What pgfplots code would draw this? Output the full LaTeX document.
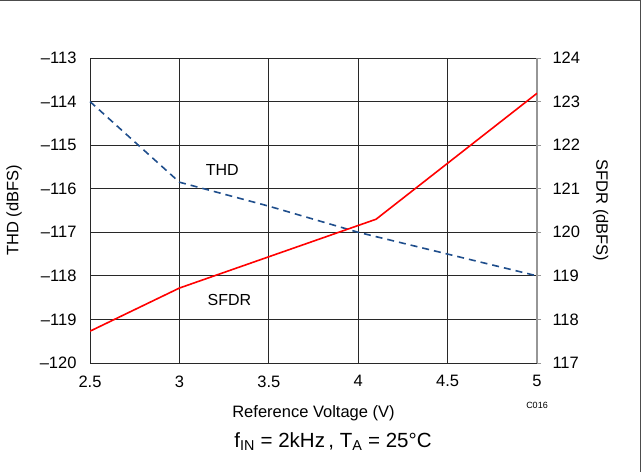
\documentclass[border=0pt]{standalone}
\usepackage{pgfplots}
\pgfplotsset{compat=1.18}
\usepackage{fontspec}
\setmainfont{Liberation Sans}

\definecolor{thdblue}{RGB}{31,78,140}
\definecolor{sfdrred}{RGB}{255,0,0}
\definecolor{gridgray}{RGB}{40,40,40}
\definecolor{rightgray}{RGB}{150,150,150}

\begin{document}
\begin{tikzpicture}
\path[use as bounding box] (0pt,0pt) rectangle (642pt,472pt);
% outer frame (top and right edges)
\draw[color=black!70, line width=1.2pt] (0pt,471.4pt) -- (640.6pt,471.4pt) -- (640.6pt,0pt);

% THD on the left axis
\begin{axis}[
  at={(90pt,109pt)}, anchor=south west,
  width=447pt, height=305pt, scale only axis,
  xmin=2.5, xmax=5, ymin=-120, ymax=-113,
  xtick={2.5,3,3.5,4,4.5,5},
  xticklabels={2.5,3,3.5,4,4.5,5},
  ytick={-120,-119,-118,-117,-116,-115,-114,-113},
  yticklabels={–120,–119,–118,–117,–116,–115,–114,–113},
  ytick pos=left, xtick pos=bottom,
  major tick length=0pt,
  grid=major,
  major grid style={color=gridgray, line width=0.9pt},
  axis line style={color=gridgray, line width=0.9pt},
  tick label style={font=\fontsize{16.5}{19}\selectfont},
  xticklabel style={yshift=-9pt},
  yticklabel style={xshift=-10pt},
  xlabel={Reference Voltage (V)},
  ylabel={THD (dBFS)},
  label style={font=\fontsize{16.5}{20}\selectfont},
  xlabel style={yshift=-11pt},
  ylabel style={yshift=11pt},
  clip=false,
]
\addplot[color=thdblue, line width=1.6pt, dash pattern=on 7pt off 5pt]
  coordinates {(2.5,-114.0) (3.0,-115.85) (3.5,-116.4) (4.0,-117.0) (4.5,-117.5) (5.0,-118.0)};
\node[font=\fontsize{16}{19}\selectfont] at (axis cs:3.24,-115.56) {THD};
\node[font=\fontsize{16}{19}\selectfont] at (axis cs:3.28,-118.56) {SFDR};
\end{axis}

% SFDR on the right axis
\begin{axis}[
  at={(90pt,109pt)}, anchor=south west,
  width=447pt, height=305pt, scale only axis,
  xmin=2.5, xmax=5, ymin=117, ymax=124,
  axis x line=none,
  axis y line*=right,
  ytick={117,118,119,120,121,122,123,124},
  yticklabels={117,118,119,120,121,122,123,124},
  tick align=outside,
  major tick length=4pt,
  tick style={color=rightgray, line width=1pt},
  axis line style={color=rightgray, line width=1.1pt},
  tick label style={font=\fontsize{16.5}{19}\selectfont},
  yticklabel style={xshift=8pt},
  ylabel={SFDR (dBFS)},
  ylabel style={font=\fontsize{16.5}{20}\selectfont, rotate=180, yshift=6pt},
]
\addplot[color=sfdrred, line width=1.6pt]
  coordinates {(2.5,117.73) (3.0,118.72) (4.1,120.30) (5.0,123.19)};
\end{axis}

\node[font=\fontsize{9}{11}\selectfont] at (537pt,67pt) {C016};
\node[font=\fontsize{20.5}{24}\selectfont] at (333pt,30pt) {f\textsubscript{IN} = 2kHz\,, T\textsubscript{A} = 25°C};
\end{tikzpicture}
\end{document}
